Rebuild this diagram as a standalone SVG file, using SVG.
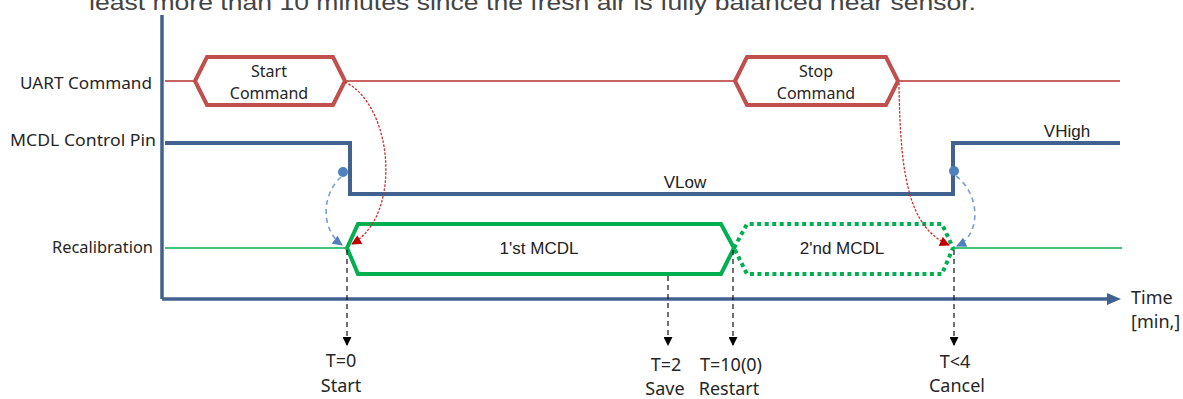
<svg xmlns="http://www.w3.org/2000/svg" width="1183" height="399" viewBox="0 0 1183 399">
<defs>
<style>
.lbl{font-family:"Noto Sans","Liberation Sans",sans-serif;font-size:16px;fill:#262626}
.lbl2{font-family:"Noto Sans","Liberation Sans",sans-serif;font-size:18px;fill:#262626}
.ar{font-family:"Liberation Sans",Arial,sans-serif;font-size:17px;fill:#222}
.axis{stroke:#41618f;stroke-width:3.5;fill:none}
.pin{stroke:#41618f;stroke-width:4;fill:none;stroke-linejoin:miter}
.cmd{stroke:#c0504d;stroke-width:4;fill:#fff;stroke-linejoin:miter}
.uart{stroke:#b8312f;stroke-width:1.3;fill:none}
.recal{stroke:#00b050;stroke-width:1.5;fill:none}
.mcdl{stroke:#00b050;stroke-width:4;fill:none;stroke-linejoin:miter}
.mcdl2{stroke:#00b050;stroke-width:4;fill:none;stroke-dasharray:4 3.5}
.red{stroke:#d42a2a;stroke-width:1.3;fill:none;stroke-dasharray:2.5 1.5}
.blue{stroke:#7b9fd4;stroke-width:1.6;fill:none;stroke-dasharray:5 4}
.tick{stroke:#111;stroke-width:1.2;fill:none;stroke-dasharray:5 4}
</style>
<marker id="mRed" viewBox="0 0 10 10" refX="9" refY="5" markerWidth="11" markerHeight="10" markerUnits="userSpaceOnUse" orient="auto"><path d="M0,0 L10,5 L0,10 Z" fill="#c00000"/></marker>
<marker id="mBlue" viewBox="0 0 10 10" refX="9" refY="5" markerWidth="11" markerHeight="10" markerUnits="userSpaceOnUse" orient="auto"><path d="M0,0 L10,5 L0,10 Z" fill="#4f81bd"/></marker>
<marker id="mBlk" viewBox="0 0 10 10" refX="9" refY="5" markerWidth="10" markerHeight="9" markerUnits="userSpaceOnUse" orient="auto"><path d="M0,0 L10,5 L0,10 Z" fill="#000"/></marker>
</defs>
<rect width="1183" height="399" fill="#fff"/>
<text x="89" y="10" font-family="Liberation Sans, Arial, sans-serif" font-size="22" fill="#444" textLength="887" lengthAdjust="spacingAndGlyphs">least more than 10 minutes since the fresh air is fully balanced near sensor.</text>

<g id="axes">
<line class="axis" x1="162" y1="15" x2="162" y2="299"/>
<line class="axis" x1="162" y1="299" x2="1110" y2="299"/>
<polygon points="1107,293 1121,299 1107,305" fill="#41618f"/>
<text class="lbl2" x="1131" y="304">Time</text>
<text class="lbl2" x="1131" y="328">[min,]</text>
</g>

<g id="row-labels">
<text class="lbl" x="152" y="89" text-anchor="end" textLength="132" lengthAdjust="spacingAndGlyphs">UART Command</text>
<text class="lbl" x="156" y="146" text-anchor="end" textLength="146" lengthAdjust="spacingAndGlyphs">MCDL Control Pin</text>
<text class="lbl" x="153" y="253" text-anchor="end" textLength="101" lengthAdjust="spacingAndGlyphs">Recalibration</text>
</g>

<g id="uart-line">
<line class="uart" x1="165" y1="81" x2="1120" y2="81"/>
</g>

<g id="start-command">
<polygon class="cmd" points="195,81 207,57 333,57 345,81 333,105 207,105"/>
<text class="lbl" x="269" y="77" text-anchor="middle">Start</text>
<text class="lbl" x="269" y="99" text-anchor="middle">Command</text>
</g>

<g id="stop-command">
<polygon class="cmd" points="735,81 747,57 886,57 898,81 886,105 747,105"/>
<text class="lbl" x="816" y="77" text-anchor="middle">Stop</text>
<text class="lbl" x="816" y="99" text-anchor="middle">Command</text>
</g>

<g id="mcdl-control-pin">
<path class="pin" d="M165,143 H350 V194 H953 V143 H1120"/>
<text class="ar" x="685" y="188" text-anchor="middle">VLow</text>
<text class="ar" x="1067" y="137" text-anchor="middle">VHigh</text>
<circle cx="343" cy="172" r="5" fill="#4f81bd"/>
<circle cx="954" cy="171" r="5" fill="#4f81bd"/>
</g>

<g id="recalibration">
<line class="recal" x1="165" y1="248" x2="347" y2="248"/>
<line class="recal" x1="953" y1="248" x2="1122" y2="248"/>
</g>

<g id="mcdl-1st">
<polygon class="mcdl" points="347,248 358,224 721,224 734,248 721,274 358,274"/>
<text class="ar" x="539" y="254" text-anchor="middle">1'st MCDL</text>
</g>

<g id="mcdl-2nd">
<polygon class="mcdl2" points="734,248 747,224 942,224 953,248 942,274 747,274"/>
<text class="ar" x="842" y="254" text-anchor="middle">2'nd MCDL</text>
</g>

<g id="connectors">
<path class="red" d="M345,82 C393,105 403,215 352,244" marker-end="url(#mRed)"/>
<path class="blue" d="M341,177 C321,195 321,230 342,245" marker-end="url(#mBlue)"/>
<path class="red" d="M899,83 C900,180 910,228 949,245" marker-end="url(#mRed)"/>
<path class="blue" d="M956,176 C981,195 981,235 957,246" marker-end="url(#mBlue)"/>
<line class="tick" x1="347" y1="250" x2="347" y2="345" marker-end="url(#mBlk)"/>
<line class="tick" x1="668" y1="276" x2="668" y2="345" marker-end="url(#mBlk)"/>
<line class="tick" x1="733" y1="250" x2="733" y2="345" marker-end="url(#mBlk)"/>
<line class="tick" x1="954" y1="250" x2="954" y2="345" marker-end="url(#mBlk)"/>
</g>

<g id="time-labels">
<text class="lbl2" x="341" y="367" text-anchor="middle">T=0</text>
<text class="lbl2" x="341" y="392" text-anchor="middle">Start</text>
<text class="lbl2" x="666" y="371" text-anchor="middle">T=2</text>
<text class="lbl2" x="665" y="395" text-anchor="middle">Save</text>
<text class="lbl2" x="731" y="371" text-anchor="middle">T=10(0)</text>
<text class="lbl2" x="729" y="395" text-anchor="middle">Restart</text>
<text class="lbl2" x="955" y="368" text-anchor="middle">T&lt;4</text>
<text class="lbl2" x="957" y="392" text-anchor="middle">Cancel</text>
</g>
</svg>
